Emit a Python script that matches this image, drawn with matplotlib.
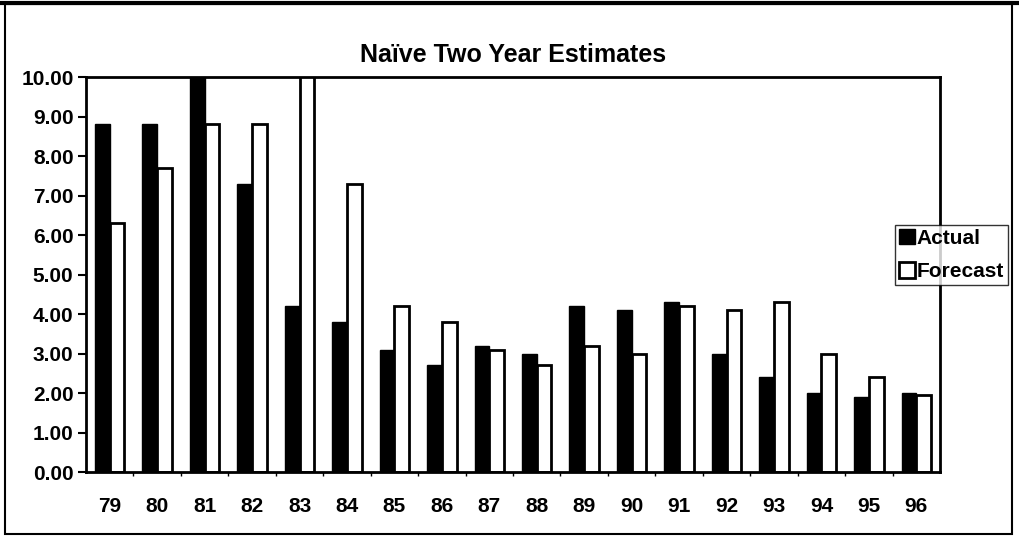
# coding: utf-8

import numpy as np
import matplotlib
matplotlib.use('Agg')
import matplotlib.pyplot as plt
from matplotlib.patches import Rectangle

# data
years = ['79', '80', '81', '82', '83', '84', '85', '86', '87',
         '88', '89', '90', '91', '92', '93', '94', '95', '96']
actual = [8.8, 8.8, 11.2, 7.3, 4.2, 3.8, 3.1, 2.7, 3.2,
          3.0, 4.2, 4.1, 4.3, 3.0, 2.4, 2.0, 1.9, 2.0]
forecast = [6.3, 7.7, 8.8, 8.8, 11.2, 7.3, 4.2, 3.8, 3.1,
            2.7, 3.2, 3.0, 4.2, 4.1, 4.3, 3.0, 2.4, 1.95]
yticks = np.arange(0, 11, 1)

plt.rcParams['font.family'] = ['Liberation Sans', 'DejaVu Sans']

# figure
fig = plt.figure(figsize=(10.19, 5.37), dpi=100)
ax = fig.add_axes([0.0844, 0.121, 0.8381, 0.7356])

x = np.arange(len(years))
w = 0.31
ax.bar(x - w / 2, actual, w, color='black', edgecolor='black', linewidth=1.0, label='Actual')
ax.bar(x + w / 2, forecast, w, color='white', edgecolor='black', linewidth=2.0, label='Forecast')

ax.set_xlim(-0.5, len(years) - 0.5)
ax.set_ylim(0, 10)
ax.set_yticks(yticks)
ax.set_yticklabels(['%.2f' % v for v in yticks], fontsize=15, fontweight='bold')
ax.set_xticks(x)
ax.set_xticklabels(years, fontsize=15, fontweight='bold')
ax.tick_params(axis='x', length=0, pad=18)
ax.tick_params(axis='y', direction='out', length=6, width=1.5, pad=3)
ax.set_xticks(np.arange(0.5, len(years) - 0.5, 1), minor=True)
ax.tick_params(axis='x', which='minor', direction='out', length=3, width=1)
for s in ax.spines.values():
    s.set_linewidth(2.0)
    s.set_color('black')

ax.set_title('Naïve Two Year Estimates', fontsize=18, fontweight='bold', pad=11)

# legend
leg = fig.legend(loc='center left', bbox_to_anchor=(895 / 1019, 1 - 255 / 537),
                 prop={'size': 15, 'weight': 'bold'}, handlelength=0.75, handleheight=0.75,
                 handletextpad=0.1, borderpad=0.2, labelspacing=0.7, frameon=True,
                 fancybox=False, borderaxespad=0)
leg.get_frame().set_edgecolor('black')
leg.get_frame().set_linewidth(1.0)

# outer frame
fig.patches.append(Rectangle((0.005, 0.006), 0.988, 0.986, transform=fig.transFigure,
                             fill=False, edgecolor='black', linewidth=1.5))
fig.add_artist(plt.Line2D([0, 1], [0.995, 0.995], transform=fig.transFigure,
                          color='black', linewidth=3))

plt.savefig('out.png', dpi=100)
plt.close()
